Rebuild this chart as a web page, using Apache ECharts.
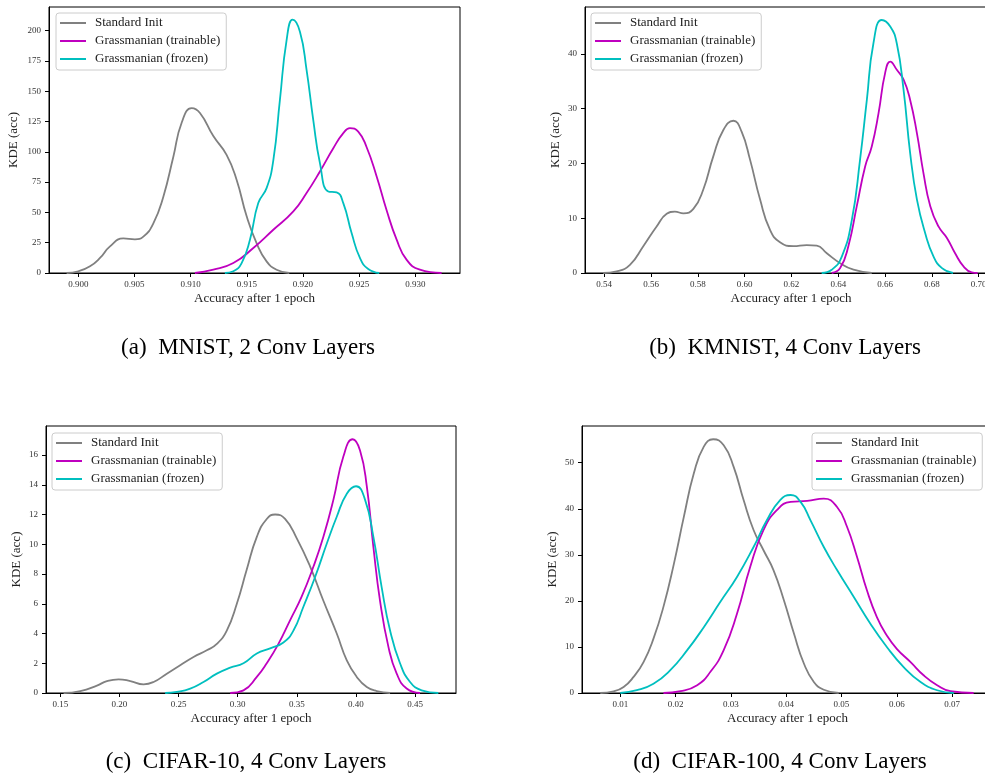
<!DOCTYPE html>
<html>
<head>
<meta charset="utf-8">
<script src="https://cdn.jsdelivr.net/npm/echarts@6/dist/echarts.min.js"></script>
<style>
  html, body { margin: 0; background: #fff; }
  #chart { width: 985px; height: 776px; }
</style>
</head>
<body>
<div id="chart"></div>
<script>
// series names (same in every panel)
const seriesNames = ['Standard Init', 'Grassmanian (trainable)', 'Grassmanian (frozen)'];
const seriesColors = ['#808080', '#bf00bf', '#00bfbf'];

// (a) MNIST, 2 conv layers
const aStdX = [0.89896, 0.9000, 0.90104, 0.90193, 0.90282, 0.90401, 0.90504, 0.90579, 0.90668, 0.90757, 0.90846, 0.90920, 0.91009, 0.91083, 0.91202, 0.91320, 0.91409, 0.91498, 0.91587, 0.91676, 0.91765, 0.91878];
const aStdY = [0, 1.4, 5.5, 12.4, 22, 28.5, 27.8, 30, 41, 63, 96, 124, 136, 132, 113, 97.5, 77, 47, 24.7, 9.6, 2.7, 0];
const aTrX = [0.91038, 0.91202, 0.9138, 0.91558, 0.91736, 0.91914, 0.92032, 0.92151, 0.9227, 0.92359, 0.92418, 0.92492, 0.92566, 0.92656, 0.92744, 0.92834, 0.92922, 0.93041, 0.93234];
const aTrY = [0, 2.7, 8.2, 20.6, 35.7, 50.8, 66, 83.8, 103, 115.4, 119.5, 116.7, 104, 79.7, 52, 27.5, 11, 2.7, 0];
const aFrX = [0.91305, 0.9138, 0.91454, 0.91528, 0.91602, 0.91676, 0.91736, 0.91795, 0.91854, 0.91908, 0.91973, 0.92032, 0.92092, 0.92151, 0.92225, 0.923, 0.92359, 0.92433, 0.92507, 0.92581, 0.92679];
const aFrY = [0, 1.4, 8.2, 27.5, 57.7, 70, 93, 143, 192, 209, 199, 167.6, 126, 90.7, 67.3, 66.5, 57.7, 33, 12.4, 3.3, 0];
const aXTicks = [0.900, 0.905, 0.910, 0.915, 0.920, 0.925, 0.930];
const aYTicks = [0, 25, 50, 75, 100, 125, 150, 175, 200];

// (b) KMNIST, 4 conv layers
const bStdX = [0.5396, 0.5453, 0.551, 0.5567, 0.5624, 0.5667, 0.5702, 0.5738, 0.5781, 0.5823, 0.5866, 0.5909, 0.5952, 0.5987, 0.6023, 0.6066, 0.6108, 0.6151, 0.6208, 0.6265, 0.6308, 0.6351, 0.6408, 0.6465, 0.6543];
const bStdY = [0, 0.3, 1.5, 4.9, 8.5, 10.8, 11.2, 10.9, 11.7, 15.2, 21.3, 26.1, 27.8, 25.8, 20.7, 13.4, 7.9, 5.6, 4.9, 5.1, 5.0, 3.6, 1.8, 0.6, 0];
const bTrX = [0.6372, 0.6408, 0.6443, 0.6479, 0.6515, 0.6543, 0.6572, 0.66, 0.6622, 0.665, 0.6679, 0.6707, 0.6736, 0.6764, 0.6793, 0.6828, 0.6864, 0.6899, 0.6935, 0.697, 0.6995];
const bTrY = [0, 0.9, 4.9, 12.2, 19.5, 23.1, 29.2, 36.5, 38.6, 37.1, 35.3, 31.6, 25.5, 18.2, 12.2, 8.5, 6.4, 3.6, 1.2, 0.1, 0];
const bFrX = [0.6329, 0.6372, 0.6415, 0.6458, 0.6493, 0.6522, 0.655, 0.6586, 0.6622, 0.665, 0.6679, 0.6707, 0.6736, 0.6771, 0.6807, 0.6843, 0.689];
const bFrY = [0, 0.6, 3.0, 9.7, 20.7, 31.6, 41.9, 46.2, 45, 41.9, 33.4, 21.9, 13.4, 7.3, 3.0, 0.9, 0];
const bXTicks = [0.54, 0.56, 0.58, 0.60, 0.62, 0.64, 0.66, 0.68, 0.70];
const bYTicks = [0, 10, 20, 30, 40];

// (c) CIFAR-10, 4 conv layers
const cStdX = [0.1528, 0.1669, 0.181, 0.1894, 0.1993, 0.2092, 0.2204, 0.2289, 0.2401, 0.2514, 0.2627, 0.2739, 0.2824, 0.2908, 0.2993, 0.3077, 0.3162, 0.3246, 0.3317, 0.3401, 0.35, 0.3613, 0.3725, 0.3838, 0.3923, 0.4007, 0.4092, 0.4176, 0.4289];
const cStdY = [0, 0.13, 0.5, 0.8, 0.92, 0.8, 0.58, 0.74, 1.3, 1.86, 2.42, 2.87, 3.3, 4.2, 6.0, 8.3, 10.5, 11.7, 12.0, 11.7, 10.4, 8.5, 6.2, 4.0, 2.2, 1.08, 0.4, 0.13, 0];
const cTrX = [0.2937, 0.3049, 0.3162, 0.3246, 0.3345, 0.3444, 0.3542, 0.3641, 0.3725, 0.381, 0.3894, 0.3973, 0.4035, 0.4092, 0.4148, 0.4204, 0.4275, 0.4345, 0.4429, 0.4542];
const cTrY = [0, 0.18, 1.08, 2.0, 3.3, 4.9, 6.5, 8.5, 10.5, 13, 15.9, 17.06, 16.3, 13.9, 9.8, 6.2, 3.1, 1.3, 0.3, 0];
const cFrX = [0.2387, 0.2486, 0.2599, 0.2711, 0.2824, 0.2937, 0.3049, 0.3162, 0.3275, 0.3387, 0.3472, 0.3556, 0.3655, 0.3754, 0.3838, 0.3923, 0.4001, 0.4077, 0.4148, 0.4218, 0.4289, 0.4373, 0.4458, 0.4556, 0.4697];
const cFrY = [0, 0.07, 0.29, 0.74, 1.3, 1.7, 2.0, 2.65, 3.0, 3.4, 4.2, 5.8, 7.8, 10.05, 11.85, 13.4, 13.9, 13, 10.5, 7.1, 4.2, 2.0, 0.74, 0.18, 0];
const cXTicks = [0.15, 0.20, 0.25, 0.30, 0.35, 0.40, 0.45];
const cYTicks = [0, 2, 4, 6, 8, 10, 12, 14, 16];

// (d) CIFAR-100, 4 conv layers
const dStdX = [0.00638, 0.0088, 0.0106, 0.0124, 0.0142, 0.016, 0.0178, 0.0197, 0.0215, 0.0233, 0.0251, 0.0268, 0.0287, 0.0305, 0.0323, 0.0341, 0.0359, 0.0377, 0.0396, 0.0414, 0.0432, 0.045, 0.0468, 0.0495];
const dStdY = [0, 0.36, 1.3, 3.5, 6.7, 11.8, 18.7, 28.1, 38.3, 47.7, 53.5, 55.1, 53.8, 49.1, 41.9, 35.4, 31, 26.7, 20.1, 12.9, 6.4, 2.4, 0.7, 0];
const dTrX = [0.0178, 0.0209, 0.0239, 0.0263, 0.0287, 0.0311, 0.0335, 0.0359, 0.0383, 0.0408, 0.0438, 0.0468, 0.0492, 0.051, 0.0528, 0.0546, 0.0564, 0.0582, 0.06, 0.0625, 0.0649, 0.0673, 0.0697, 0.0739];
const dTrY = [0, 0.4, 1.7, 4.6, 9.3, 17.2, 27.4, 35.4, 39.7, 41.5, 41.7, 42.2, 40.4, 36.1, 29.6, 22.3, 16.5, 12.5, 9.6, 6.7, 3.8, 1.7, 0.4, 0];
const dFrX = [0.01, 0.013, 0.016, 0.019, 0.0221, 0.0251, 0.0281, 0.0311, 0.0341, 0.0365, 0.0389, 0.0408, 0.0426, 0.0444, 0.0468, 0.0492, 0.0522, 0.0552, 0.0582, 0.0612, 0.0643, 0.0673, 0.0703];
const dFrY = [0, 0.6, 2.0, 4.9, 9.3, 14.3, 19.8, 25.2, 31.7, 37.5, 41.9, 43, 41.5, 37.5, 31.7, 26.7, 20.9, 15.1, 10, 5.7, 2.4, 0.6, 0];
const dXTicks = [0.01, 0.02, 0.03, 0.04, 0.05, 0.06, 0.07];
const dYTicks = [0, 10, 20, 30, 40, 50];

const SERIF = '"Liberation Serif", "DejaVu Serif", serif';

// layout of each panel (pixels) and axis ranges
const panels = [
  { grid: { left: 49, top: 7, width: 411, height: 266 }, xMin: 0.89739, xMax: 0.93398, yMax: 219.5,
    xTicks: aXTicks, yTicks: aYTicks, dec: 3, yGap: 29, legend: { left: 56, top: 13 },
    lines: [[aStdX, aStdY], [aTrX, aTrY], [aFrX, aFrY]], caption: ['(a)  MNIST, 2 Conv Layers', 248, 348] },
  { grid: { left: 585, top: 7, width: 412, height: 266 }, xMin: 0.5318, xMax: 0.7078, yMax: 48.57,
    xTicks: bXTicks, yTicks: bYTicks, dec: 2, yGap: 23, legend: { left: 591, top: 13 },
    lines: [[bStdX, bStdY], [bTrX, bTrY], [bFrX, bFrY]], caption: ['(b)  KMNIST, 4 Conv Layers', 785, 348] },
  { grid: { left: 46, top: 426, width: 410, height: 267 }, xMin: 0.13792, xMax: 0.48465, yMax: 17.95,
    xTicks: cXTicks, yTicks: cYTicks, dec: 2, yGap: 23, legend: { left: 52, top: 433 },
    lines: [[cStdX, cStdY], [cTrX, cTrY], [cFrX, cFrY]], caption: ['(c)  CIFAR-10, 4 Conv Layers', 246, 762] },
  { grid: { left: 582, top: 426, width: 411, height: 267 }, xMin: 0.003074, xMax: 0.0774, yMax: 57.98,
    xTicks: dXTicks, yTicks: dYTicks, dec: 2, yGap: 23, legend: { left: 812, top: 433 },
    lines: [[dStdX, dStdY], [dTrX, dTrY], [dFrX, dFrY]], caption: ['(d)  CIFAR-100, 4 Conv Layers', 780, 762] }
];

const option = {
  animation: false,
  backgroundColor: '#fff',
  grid: [], xAxis: [], yAxis: [], legend: [], series: [], graphic: []
};

panels.forEach((p, i) => {
  option.grid.push(Object.assign({
    show: true, borderColor: '#000', borderWidth: 1, backgroundColor: 'transparent',
    outerBoundsMode: 'none', containLabel: false
  }, p.grid));

  option.xAxis.push({
    gridIndex: i, type: 'value', min: p.xMin, max: p.xMax,
    name: 'Accuracy after 1 epoch', nameLocation: 'middle', nameGap: 19,
    nameTextStyle: { fontFamily: SERIF, fontSize: 13, color: '#222' },
    axisLine: { lineStyle: { color: '#000', width: 1 } },
    axisTick: { length: 4, lineStyle: { color: '#000' }, customValues: p.xTicks },
    axisLabel: { fontFamily: SERIF, fontSize: 9, color: '#333', margin: 7,
      customValues: p.xTicks, formatter: v => v.toFixed(p.dec) },
    splitLine: { show: false }
  });

  option.yAxis.push({
    gridIndex: i, type: 'value', min: 0, max: p.yMax,
    name: 'KDE (acc)', nameLocation: 'middle', nameGap: p.yGap,
    nameTextStyle: { fontFamily: SERIF, fontSize: 13, color: '#222' },
    axisLine: { show: true, lineStyle: { color: '#000', width: 1 } },
    axisTick: { show: true, length: 4, lineStyle: { color: '#000' }, customValues: p.yTicks },
    axisLabel: { fontFamily: SERIF, fontSize: 9, color: '#333', margin: 8,
      customValues: p.yTicks, formatter: v => String(v) },
    splitLine: { show: false }
  });

  option.legend.push({
    left: p.legend.left, top: p.legend.top, orient: 'vertical',
    data: seriesNames, icon: 'rect', itemWidth: 26, itemHeight: 2, itemGap: 4,
    padding: [3, 6, 4, 4], borderColor: '#ccc', borderWidth: 1, borderRadius: 3,
    backgroundColor: 'rgba(255,255,255,0.8)', selectedMode: false,
    textStyle: { fontFamily: SERIF, fontSize: 13, color: '#222', lineHeight: 14, padding: [0, 0, 0, 4] }
  });

  p.lines.forEach(([xs, ys], k) => {
    option.series.push({
      name: seriesNames[k], type: 'line', xAxisIndex: i, yAxisIndex: i,
      data: xs.map((x, j) => [x, ys[j]]),
      showSymbol: false, symbol: 'none', smooth: 0.5,
      color: seriesColors[k], lineStyle: { color: seriesColors[k], width: 1.8 },
      z: 3
    });
  });

  option.graphic.push({
    type: 'text', x: p.caption[1], y: p.caption[2],
    style: { text: p.caption[0], fontFamily: SERIF, fontSize: 23, fill: '#000',
      textAlign: 'center', textVerticalAlign: 'middle' }
  });
});

const chart = echarts.init(document.getElementById('chart'), null, { renderer: 'canvas' });
chart.setOption(option);
</script>
</body>
</html>
